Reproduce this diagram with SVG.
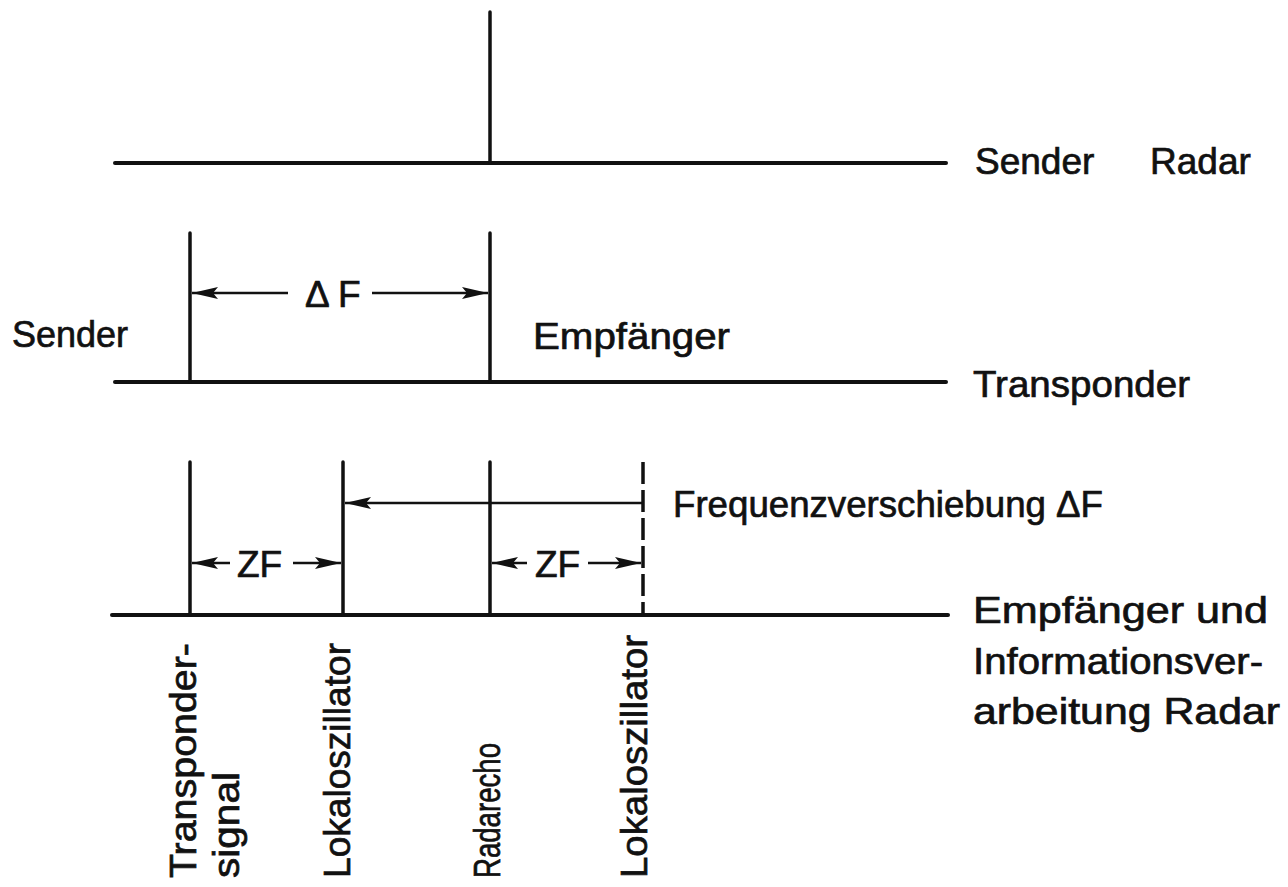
<svg xmlns="http://www.w3.org/2000/svg" width="1288" height="887" viewBox="0 0 1288 887">
<style>
.ax{stroke:#111;stroke-width:4;stroke-linecap:round;fill:none}
.vt{stroke:#111;stroke-width:3.5;stroke-linecap:round;fill:none}
.ds{stroke:#111;stroke-width:3.5;fill:none;stroke-dasharray:22 6}
.ar{stroke:#111;stroke-width:2.5;fill:none}
text{font-family:"Liberation Sans",Arial,sans-serif;font-size:37px;fill:#111;stroke:#111;stroke-width:0.7}
</style>
<defs>
<marker id="ah" viewBox="0 0 26 12" refX="26" refY="6" markerWidth="26" markerHeight="12" markerUnits="userSpaceOnUse" orient="auto">
<path d="M0,0 L26,6 L0,12 L5,6 z" fill="#111"/>
</marker>
</defs>
<rect width="1288" height="887" fill="#fff"/>

<g id="sender-radar">
<line class="ax" x1="115" y1="163" x2="946" y2="163"/>
<line class="vt" x1="490" y1="12" x2="490" y2="163"/>
<text y="174"><tspan x="975">Sender</tspan><tspan x="1150">Radar</tspan></text>
</g>

<g id="transponder">
<line class="ax" x1="115" y1="382" x2="946" y2="382"/>
<line class="vt" x1="190" y1="233" x2="190" y2="382"/>
<line class="vt" x1="490" y1="233" x2="490" y2="382"/>
<text x="12" y="347" textLength="116" lengthAdjust="spacingAndGlyphs">Sender</text>
<text x="533" y="349" textLength="197" lengthAdjust="spacingAndGlyphs">Empfänger</text>
<text x="973" y="397" textLength="217" lengthAdjust="spacingAndGlyphs">Transponder</text>
<text x="305" y="307">Δ F</text>
</g>

<g id="empfaenger-radar">
<line class="ax" x1="112" y1="615" x2="948" y2="615"/>
<line class="vt" x1="190" y1="462" x2="190" y2="615"/>
<line class="vt" x1="343" y1="462" x2="343" y2="615"/>
<line class="vt" x1="490" y1="462" x2="490" y2="615"/>
<line class="ds" x1="643" y1="462" x2="643" y2="615"/>
<text x="673" y="517" textLength="430" lengthAdjust="spacingAndGlyphs">Frequenzverschiebung ΔF</text>
<text x="237" y="577">ZF</text>
<text x="535" y="577">ZF</text>
<text x="973" y="623" textLength="295" lengthAdjust="spacingAndGlyphs">Empfänger und</text>
<text x="973" y="674" textLength="290" lengthAdjust="spacingAndGlyphs">Informationsver-</text>
<text x="973" y="724" textLength="307" lengthAdjust="spacingAndGlyphs">arbeitung Radar</text>
</g>

<g id="labels">
<text transform="translate(196,878) rotate(-90)" textLength="235" lengthAdjust="spacingAndGlyphs">Transponder-</text>
<text transform="translate(239,878) rotate(-90)" textLength="106" lengthAdjust="spacingAndGlyphs">signal</text>
<text transform="translate(350,878) rotate(-90)" textLength="235" lengthAdjust="spacingAndGlyphs">Lokaloszillator</text>
<text transform="translate(500,878) rotate(-90)" textLength="135" lengthAdjust="spacingAndGlyphs">Radarecho</text>
<text transform="translate(647,878) rotate(-90)" textLength="243" lengthAdjust="spacingAndGlyphs">Lokaloszillator</text>
</g>

<g id="connectors">
<line class="ar" x1="288" y1="293" x2="192" y2="293" marker-end="url(#ah)"/>
<line class="ar" x1="372" y1="293" x2="488" y2="293" marker-end="url(#ah)"/>
<line class="ar" x1="643" y1="503" x2="345" y2="503" marker-end="url(#ah)"/>
<line class="ar" x1="230" y1="563" x2="192" y2="563" marker-end="url(#ah)"/>
<line class="ar" x1="293" y1="563" x2="341" y2="563" marker-end="url(#ah)"/>
<line class="ar" x1="527" y1="563" x2="492" y2="563" marker-end="url(#ah)"/>
<line class="ar" x1="588" y1="563" x2="641" y2="563" marker-end="url(#ah)"/>
</g>
</svg>
